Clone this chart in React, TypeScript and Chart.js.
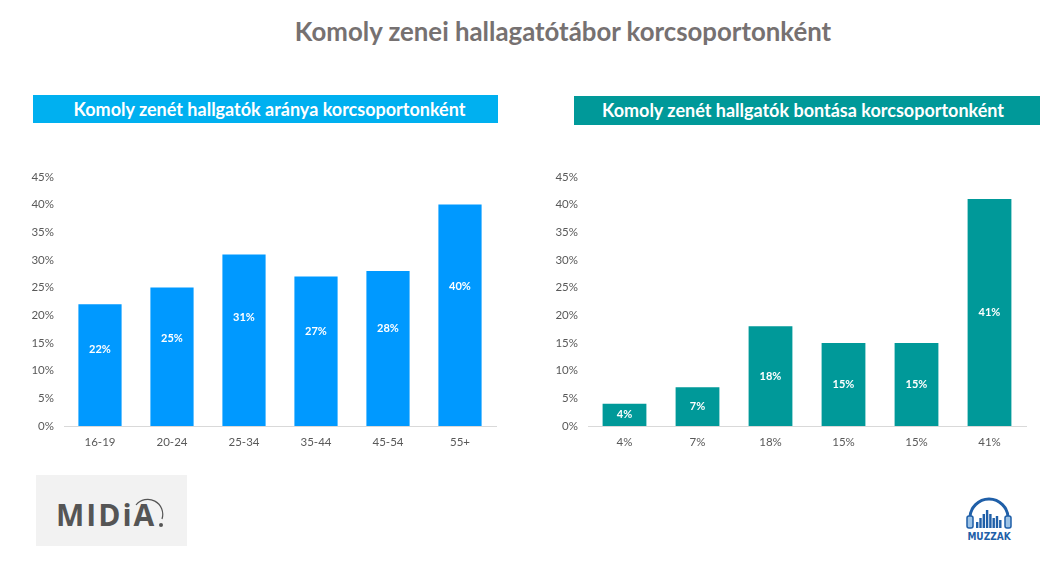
import React, { useEffect, useRef } from "react";
import { Chart, registerables } from "chart.js";

Chart.register(...registerables);

const pageTitle = "Komoly zenei hallagatótábor korcsoportonként";
const leftTitle = "Komoly zenét hallgatók aránya korcsoportonként";
const rightTitle = "Komoly zenét hallgatók bontása korcsoportonként";

const leftCategories = ["16-19", "20-24", "25-34", "35-44", "45-54", "55+"];
const leftValues = [22, 25, 31, 27, 28, 40];

const rightCategories = ["4%", "7%", "18%", "15%", "15%", "41%"];
const rightValues = [4, 7, 18, 15, 15, 41];

const yMax = 45;
const yStep = 5;

const FONT = "Lato, 'Open Sans', sans-serif";

function makeLabelPlugin(frac: number) {
  return {
    id: "barLabels",
    afterDatasetsDraw(chart: any) {
      const ctx = chart.ctx;
      const meta = chart.getDatasetMeta(0);
      const data = chart.data.datasets[0].data as number[];
      ctx.save();
      ctx.fillStyle = "#ffffff";
      ctx.font = `bold 11px ${FONT}`;
      ctx.textAlign = "center";
      ctx.textBaseline = "middle";
      meta.data.forEach((bar: any, i: number) => {
        const top = bar.y;
        const bottom = bar.base;
        const y = top + (bottom - top) * frac;
        ctx.fillText(`${data[i]}%`, bar.x, y);
      });
      ctx.restore();
    },
  };
}

function BarChart(props: {
  labels: string[];
  values: number[];
  color: string;
  yWidth: number;
  labelFrac: number;
  width: number;
  height: number;
}) {
  const ref = useRef<HTMLCanvasElement | null>(null);
  useEffect(() => {
    if (!ref.current) return;
    const chart = new Chart(ref.current, {
      type: "bar",
      data: {
        labels: props.labels,
        datasets: [
          {
            data: props.values,
            backgroundColor: props.color,
            barPercentage: 0.6,
            categoryPercentage: 1,
          },
        ],
      },
      options: {
        animation: false,
        responsive: false,
        maintainAspectRatio: false,
        layout: { padding: { top: 16, right: 14, left: 0, bottom: 0 } },
        plugins: { legend: { display: false }, tooltip: { enabled: false } },
        scales: {
          x: {
            grid: { display: false, drawTicks: false },
            border: { display: true, color: "#D9D9D9", width: 1 },
            ticks: { color: "#595959", font: { family: FONT, size: 11.5 }, padding: 9 },
            afterFit: (s: any) => {
              s.height = 34;
            },
          },
          y: {
            min: 0,
            max: yMax,
            grid: { display: false, drawTicks: false },
            border: { display: false },
            ticks: {
              stepSize: yStep,
              color: "#595959",
              font: { family: FONT, size: 11.5 },
              padding: 10,
              callback: (v: any) => `${v}%`,
            },
            afterFit: (s: any) => {
              s.width = props.yWidth;
            },
          },
        },
      },
      plugins: [makeLabelPlugin(props.labelFrac)],
    });
    return () => chart.destroy();
  }, []);
  return <canvas ref={ref} width={props.width} height={props.height} style={{ display: "block" }} />;
}

function MuzzakLogo() {
  const bars = [6, 10, 14, 18, 14, 10, 12, 8];
  return (
    <svg width="50" height="52" viewBox="0 0 50 52">
      <path d="M6 28 A19 19 0 0 1 44 28" fill="none" stroke="#1F5FA8" strokeWidth="3" />
      <rect x="3" y="26" width="6" height="12" rx="2" fill="#9DC3E6" stroke="#1F5FA8" strokeWidth="1.5" />
      <rect x="41" y="26" width="6" height="12" rx="2" fill="#9DC3E6" stroke="#1F5FA8" strokeWidth="1.5" />
      {bars.map((h, i) => (
        <rect key={i} x={12 + i * 3.3} y={38 - h} width="2.4" height={h} fill="#1F5FA8" />
      ))}
      <text x="25" y="50" textAnchor="middle" fontFamily="'DejaVu Sans Condensed', 'Liberation Sans Narrow', sans-serif" fontWeight="bold" fontSize="10" fill="#1F5FA8">
        MUZZAK
      </text>
    </svg>
  );
}

export default function App() {
  return (
    <div style={{ position: "absolute", left: 0, top: 0, width: 1049, height: 566, background: "#fff", fontFamily: FONT, overflow: "hidden" }}>
      <div style={{ position: "absolute", left: 0, width: 1126, top: 16, textAlign: "center", fontSize: 25.8, fontWeight: "bold", color: "#767171" }}>
        {pageTitle}
      </div>
      <div style={{ position: "absolute", left: 33, top: 95, width: 465, height: 28, background: "#00B0F0", color: "#fff", fontWeight: "bold", fontSize: 18, lineHeight: "28px", textAlign: "center", boxSizing: "border-box", paddingLeft: 8 }}>
        {leftTitle}
      </div>
      <div style={{ position: "absolute", left: 574, top: 96, width: 466, height: 29, background: "#009999", color: "#fff", fontWeight: "bold", fontSize: 18, lineHeight: "29px", textAlign: "center", boxSizing: "border-box", paddingRight: 8 }}>
        {rightTitle}
      </div>
      <div style={{ position: "absolute", left: 20, top: 160 }}>
        <BarChart labels={leftCategories} values={leftValues} color="#0099FF" yWidth={44} labelFrac={0.37} width={490} height={300} />
      </div>
      <div style={{ position: "absolute", left: 540, top: 160 }}>
        <BarChart labels={rightCategories} values={rightValues} color="#009999" yWidth={48} labelFrac={0.5} width={500} height={300} />
      </div>
      <div style={{ position: "absolute", left: 36, top: 475, width: 151, height: 71, background: "#F2F2F2" }}>
        <div style={{ position: "absolute", left: 20, top: 19, fontSize: 30, fontWeight: "bold", color: "#555", letterSpacing: 2, fontFamily: "'Open Sans', sans-serif" }}>
          MIDiA
        </div>
        <svg style={{ position: "absolute", left: 96, top: 18, overflow: "visible" }} width="40" height="40">
          <path d="M4 12 A15 15 0 0 1 30 26" fill="none" stroke="#555" strokeWidth="1.2" />
          <circle cx="29" cy="32" r="2" fill="#555" />
        </svg>
      </div>
      <div style={{ position: "absolute", left: 964, top: 490 }}>
        <MuzzakLogo />
      </div>
    </div>
  );
}
